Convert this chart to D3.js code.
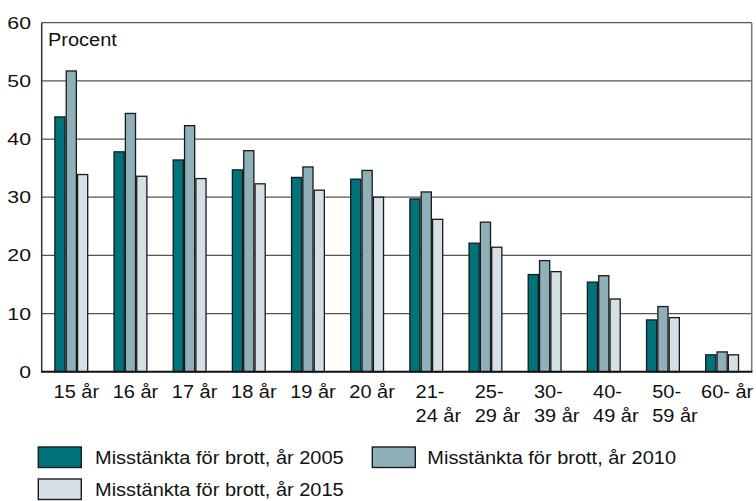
<!DOCTYPE html>
<html>
<head>
<meta charset="utf-8">
<script src="https://cdn.jsdelivr.net/npm/d3@7"></script>
<style>
    body { margin: 0; background: #fff; }
    svg { display: block; font-family: "Liberation Sans", Arial, sans-serif; }
</style>
</head>
<body>
<div id="chart"></div>
<script>
const categories = ['15 år', '16 år', '17 år', '18 år', '19 år', '20 år',
    '21-\n24 år', '25-\n29 år', '30-\n39 år', '40-\n49 år', '50-\n59 år', '60- år'];
const seriesNames = ['Misstänkta för brott, år 2005', 'Misstänkta för brott, år 2010', 'Misstänkta för brott, år 2015'];
const values2005 = [43.8, 37.8, 36.4, 34.7, 33.4, 33.1, 29.7, 22.1, 16.7, 15.4, 8.9, 2.9];
const values2010 = [51.7, 44.4, 42.3, 38.0, 35.2, 34.6, 30.9, 25.7, 19.1, 16.5, 11.2, 3.4];
const values2015 = [33.9, 33.6, 33.2, 32.3, 31.2, 30.0, 26.2, 21.4, 17.2, 12.5, 9.3, 2.9];
const yTicks = [0, 10, 20, 30, 40, 50, 60];
const colors = ['#00727a', '#8fb0b9', '#d4e0e5'];

const width = 756, height = 501;
const plot = { left: 41.7, right: 751.7, top: 22.7, bottom: 371.7 };
const stretch = 1.08;

const series = [values2005, values2010, values2015];
const rows = categories.map((c, i) => ({ category: c, values: series.map(s => s[i]) }));

const svg = d3.select('#chart')
    .append('svg')
    .attr('width', width)
    .attr('height', height);

const x0 = d3.scaleBand()
    .domain(categories)
    .range([plot.left, plot.right])
    .paddingInner(0.425)
    .paddingOuter(0.2125);

const x1 = d3.scaleBand()
    .domain(d3.range(series.length))
    .range([0, x0.bandwidth()]);

const y = d3.scaleLinear()
    .domain([0, 60])
    .range([plot.bottom, plot.top]);

// gridlines + frame (the 60 line doubles as the top border)
svg.append('g')
    .selectAll('line')
    .data(yTicks.filter(t => t > 0))
    .enter().append('line')
    .attr('x1', plot.left)
    .attr('x2', plot.right)
    .attr('y1', d => y(d))
    .attr('y2', d => y(d))
    .attr('stroke', '#555')
    .attr('stroke-width', 1.2);

svg.append('line')
    .attr('x1', plot.right).attr('x2', plot.right)
    .attr('y1', plot.top).attr('y2', plot.bottom)
    .attr('stroke', '#777')
    .attr('stroke-width', 1.5);

svg.append('line')
    .attr('x1', plot.left).attr('x2', plot.left)
    .attr('y1', plot.top).attr('y2', plot.bottom)
    .attr('stroke', '#333')
    .attr('stroke-width', 1.5);

// y tick labels
svg.append('g')
    .selectAll('text')
    .data(yTicks)
    .enter().append('text')
    .attr('transform', d => `translate(31, ${y(d)}) scale(1.25, 1)`)
    .attr('dy', '0.36em')
    .attr('text-anchor', 'end')
    .style('font-size', '17px')
    .style('fill', '#111')
    .text(d => d);

svg.append('text')
    .attr('transform', `translate(48, 45.7) scale(${stretch}, 1)`)
    .style('font-size', '18.5px')
    .style('fill', '#111')
    .text('Procent');

// bars
const groups = svg.append('g')
    .selectAll('g')
    .data(rows)
    .enter().append('g')
    .attr('transform', d => `translate(${x0(d.category)}, 0)`);

groups.selectAll('rect')
    .data(d => d.values.map((v, i) => ({ i, v })))
    .enter().append('rect')
    .attr('x', d => x1(d.i) + 0.6)
    .attr('y', d => y(d.v))
    .attr('width', x1.bandwidth() - 1.2)
    .attr('height', d => y(0) - y(d.v))
    .attr('fill', d => colors[d.i])
    .attr('stroke', '#1a1a1a')
    .attr('stroke-width', 1.3);

// x axis line
svg.append('line')
    .attr('x1', plot.left - 0.7).attr('x2', plot.right + 0.7)
    .attr('y1', plot.bottom).attr('y2', plot.bottom)
    .attr('stroke', '#111')
    .attr('stroke-width', 2);

// x tick labels, two-line ones are left aligned
const xLabels = svg.append('g')
    .selectAll('text')
    .data(categories)
    .enter().append('text')
    .style('font-size', '18.5px')
    .style('fill', '#111')
    .attr('text-anchor', d => d.includes('\n') ? 'start' : 'middle')
    .attr('transform', d => {
        const xPos = d.includes('\n') ? x0(d) + 6.3 : x0(d) + x0.bandwidth() / 2 + 5;
        return `translate(${xPos}, 398) scale(${stretch}, 1)`;
    });

xLabels.selectAll('tspan')
    .data(d => d.split('\n'))
    .enter().append('tspan')
    .attr('x', 0)
    .attr('y', (d, i) => i * 24)
    .text(d => d);

// legend
const legendPos = [
    { bx: 38.3, by: 447, tx: 95 },
    { bx: 372.3, by: 447, tx: 427.3 },
    { bx: 38.3, by: 479, tx: 95 }
];

const legend = svg.append('g')
    .selectAll('g')
    .data(seriesNames)
    .enter().append('g');

legend.append('rect')
    .attr('x', (d, i) => legendPos[i].bx)
    .attr('y', (d, i) => legendPos[i].by)
    .attr('width', 43)
    .attr('height', 20.5)
    .attr('fill', (d, i) => colors[i])
    .attr('stroke', '#1a1a1a')
    .attr('stroke-width', 1.4);

legend.append('text')
    .attr('transform', (d, i) => `translate(${legendPos[i].tx}, ${legendPos[i].by + 17}) scale(${stretch}, 1)`)
    .style('font-size', '18.5px')
    .style('fill', '#111')
    .text(d => d);
</script>
</body>
</html>
